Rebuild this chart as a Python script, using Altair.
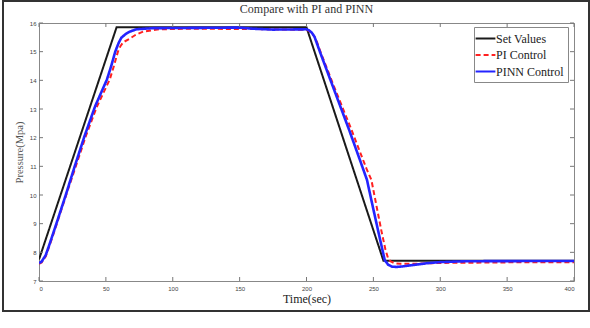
import altair as alt
import pandas as pd

# ---- data ----
set_t = [0, 58, 200, 257.5, 400]
set_v = [7.75, 15.85, 15.85, 7.71, 7.71]

pi_t = [0, 2, 5, 8, 13, 20, 27.5, 35, 43, 52.9, 56, 59, 61, 63, 67.8, 72, 77.8, 90, 110,
        160, 200, 202, 204, 207, 210, 220, 233.6, 240, 245, 248.5, 252, 256, 259, 261,
        263, 266, 270, 280, 300, 350, 400]
pi_v = [7.6, 7.65, 7.85, 8.25, 8.95, 9.95, 11.0, 12.05, 13.05, 14.03, 14.5, 15.0, 15.2,
        15.33, 15.45, 15.58, 15.7, 15.78, 15.8, 15.79, 15.76, 15.72, 15.65, 15.45, 15.05,
        13.85, 12.28, 11.5, 10.9, 10.53, 9.7, 8.75, 8.1, 7.79, 7.68, 7.62, 7.6, 7.6, 7.63,
        7.65, 7.65]

pinn_t = [0, 2, 5, 8, 13, 20, 26.7, 34, 42, 50.8, 54, 57, 59.5, 61.6, 65, 68, 72.8, 85,
          150, 160, 175, 200, 202, 204, 206, 210, 220, 231.8, 239.8, 245.2, 250, 255,
          258.5, 261, 264, 267, 272, 280, 290, 300, 320, 400]
pinn_v = [7.62, 7.68, 7.9, 8.3, 9.0, 10.0, 11.0, 12.05, 13.1, 14.03, 14.5, 15.0, 15.3,
          15.49, 15.62, 15.7, 15.78, 15.82, 15.84, 15.8, 15.77, 15.78, 15.74, 15.66, 15.52,
          15.0, 13.75, 12.28, 11.24, 10.53, 9.5, 8.45, 7.73, 7.57, 7.5, 7.49, 7.51, 7.56,
          7.62, 7.66, 7.69, 7.7]

series_names = ["Set Values", "PI Control", "PINN Control"]
series_colors = ["#1a1a1a", "#ff2020", "#2424ff"]
series_dash = [[1, 0], [5, 3], [1, 0]]
series_width = [2.0, 2.0, 2.6]

x_ticks = [0, 50, 100, 150, 200, 250, 300, 350, 400]
y_ticks = [7, 8, 9, 10, 11, 12, 13, 14, 15, 16]

rows = []
for name, ts, vs in zip(series_names, [set_t, pi_t, pinn_t], [set_v, pi_v, pinn_v]):
    for t, v in zip(ts, vs):
        rows.append({"series": name, "t": t, "p": v})
df = pd.DataFrame(rows)

W, H = 535, 258
FONT = "Liberation Serif"

xscale = alt.Scale(domain=[0, 400], nice=False, zero=False)
yscale = alt.Scale(domain=[7, 16], nice=False, zero=False)

xaxis = alt.Axis(values=x_ticks, tickSize=0, domain=False, grid=False,
                 labelFontSize=6, labelColor="#444", labelFont="Liberation Sans",
                 labelPadding=4, labelOverlap=False,
                 title="Time(sec)", titleFont=FONT, titleFontSize=12,
                 titleFontWeight="normal", titleColor="#222", titlePadding=2)
yaxis = alt.Axis(values=y_ticks, tickSize=0, domain=False, grid=False,
                 labelFontSize=6, labelColor="#444", labelFont="Liberation Sans",
                 labelPadding=3, labelOverlap=False,
                 title="Pressure(Mpa)", titleFont=FONT, titleFontSize=10.5,
                 titleFontWeight="normal", titleColor="#555", titlePadding=5)

legend = alt.Legend(title=None, orient="none", legendX=435, legendY=4,
                    fillColor="white", strokeColor="#888", padding=4,
                    symbolType="M-1.65,0H1.65", symbolSize=144, symbolStrokeWidth=2.2,
                    labelFont=FONT, labelFontSize=12, labelColor="#222",
                    labelOffset=3, rowPadding=2.5)

color = alt.Color("series:N", scale=alt.Scale(domain=series_names, range=series_colors),
                  legend=legend)
dash = alt.StrokeDash("series:N", scale=alt.Scale(domain=series_names, range=series_dash),
                      legend=legend)

layers = []
# outer frame around the whole figure
frame = alt.Chart(pd.DataFrame({"a": [0]})).mark_rect(
    fill="white", fillOpacity=0, stroke="#333", strokeWidth=2
).encode(x=alt.value(-36), x2=alt.value(550), y=alt.value(-22), y2=alt.value(288))
layers.append(frame)

for i, name in enumerate(series_names):
    ln = alt.Chart(df).transform_filter(alt.datum.series == name).mark_line(
        strokeWidth=series_width[i], clip=True
    ).encode(
        x=alt.X("t:Q", scale=xscale, axis=xaxis),
        y=alt.Y("p:Q", scale=yscale, axis=yaxis),
        color=color,
        strokeDash=dash,
        order=alt.Order("t:Q"),
    )
    layers.append(ln)

# inward ticks (matlab style) on all four sides
xt = pd.DataFrame({"t": x_ticks})
yt = pd.DataFrame({"p": y_ticks})
tick_style = dict(color="#777", strokeWidth=1)
bottom_ticks = alt.Chart(xt).mark_rule(**tick_style).encode(
    x=alt.X("t:Q", scale=xscale, axis=xaxis), y=alt.value(H), y2=alt.value(H - 4))
top_ticks = alt.Chart(xt).mark_rule(**tick_style).encode(
    x=alt.X("t:Q", scale=xscale, axis=xaxis), y=alt.value(0), y2=alt.value(4))
left_ticks = alt.Chart(yt).mark_rule(**tick_style).encode(
    y=alt.Y("p:Q", scale=yscale, axis=yaxis), x=alt.value(0), x2=alt.value(4))
right_ticks = alt.Chart(yt).mark_rule(**tick_style).encode(
    y=alt.Y("p:Q", scale=yscale, axis=yaxis), x=alt.value(W), x2=alt.value(W - 4))
layers += [bottom_ticks, top_ticks, left_ticks, right_ticks]

chart = alt.layer(*layers).properties(
    width=W, height=H,
    title=alt.Title("Compare with PI and PINN", font=FONT, fontSize=12,
                    fontWeight="normal", color="#333", anchor="middle",
                    frame="group", offset=-16),
    autosize=alt.AutoSizeParams(type="none"),
    padding={"left": 39, "top": 23, "right": 16, "bottom": 47},
    background="white",
).configure_view(stroke="#888", strokeWidth=1).configure_legend(
    labelFont=FONT, labelFontSize=12, labelColor="#222"
)

chart.save("out.html", embed_options={"renderer": "svg", "actions": False})
